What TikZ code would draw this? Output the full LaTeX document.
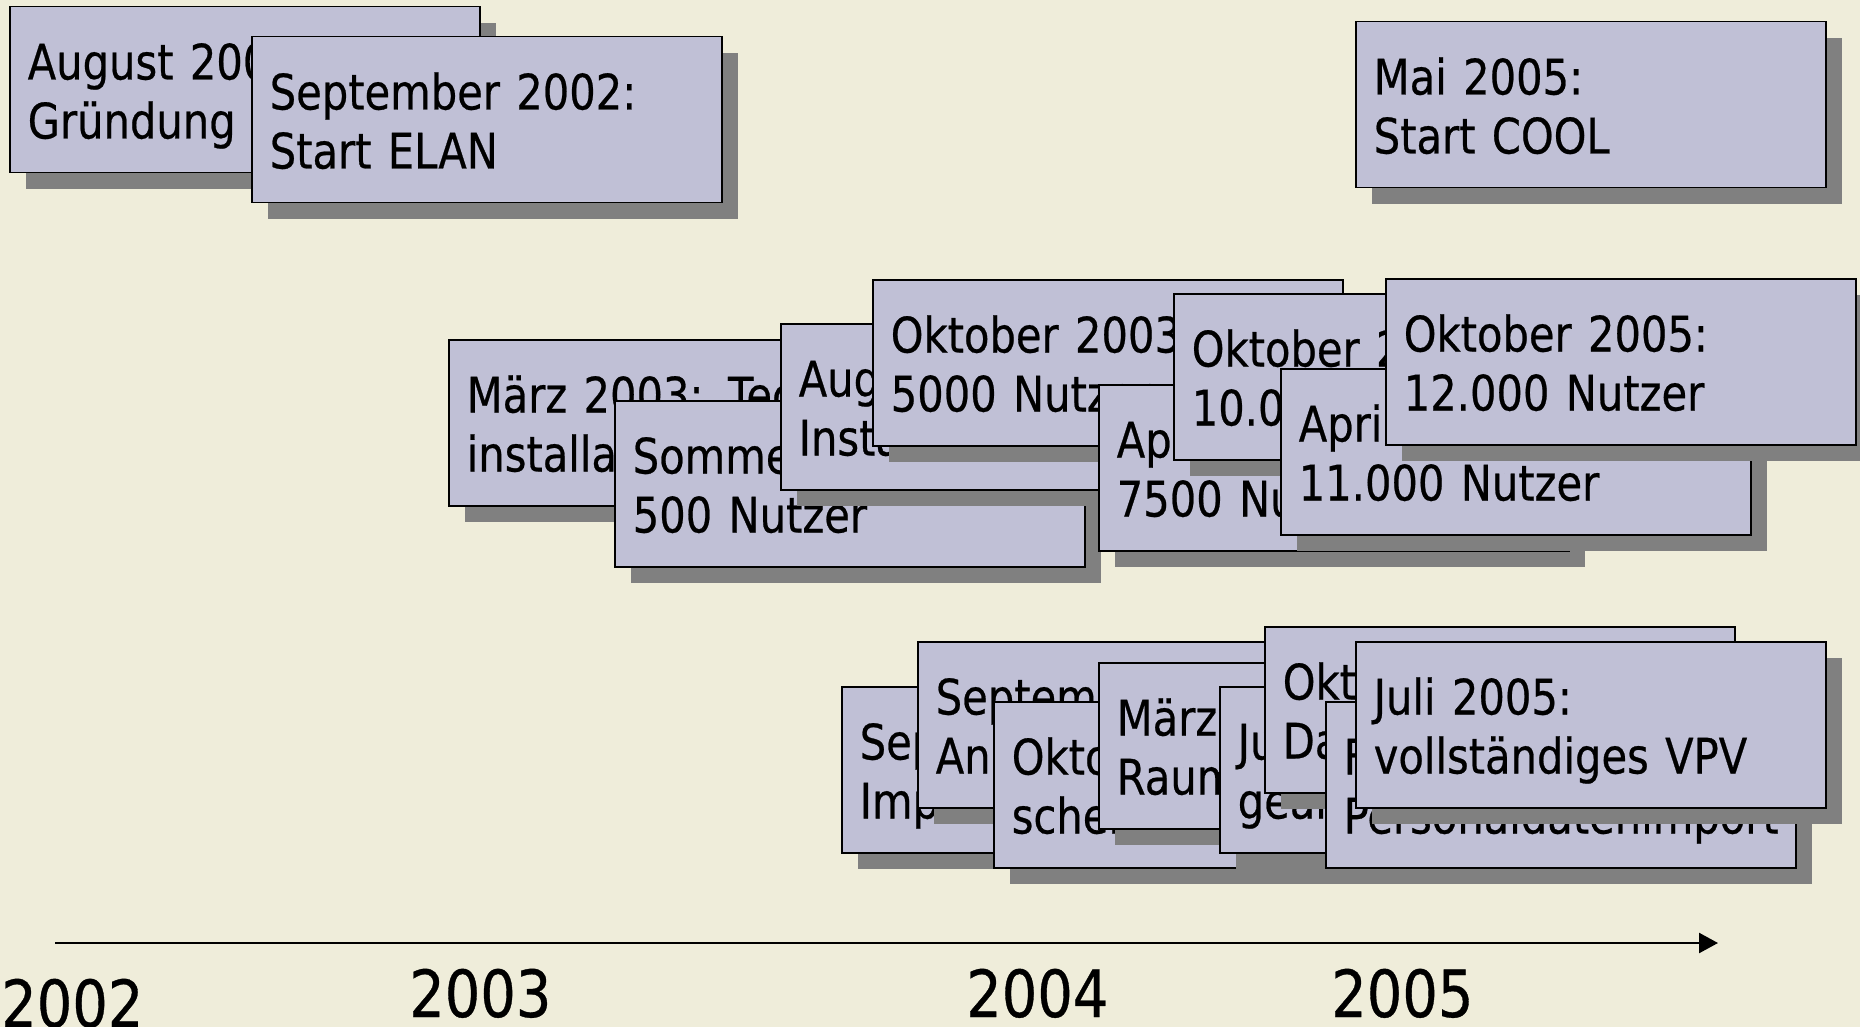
\documentclass[tikz,border=0pt]{standalone}
\usepackage{fontspec}
\setmainfont{DejaVu Sans}
\newfontfamily\boxfont[FakeStretch=0.85,FakeBold=0.5]{DejaVu Sans}
\newfontfamily\yearfont[FakeStretch=0.86,FakeBold=0.5]{DejaVu Sans}
\usetikzlibrary{shadows,arrows.meta}
\definecolor{bgc}{RGB}{239,237,218}
\definecolor{boxc}{RGB}{192,192,214}
\definecolor{shc}{RGB}{128,128,128}
\hyphenpenalty=10000
\exhyphenpenalty=10000
\begin{document}
\begin{tikzpicture}[x=1pt,y=-1pt,
  ev/.style={draw=black, line width=1.5pt, fill=boxc, anchor=north west,
    minimum width=470pt, minimum height=166pt, inner xsep=18pt, inner ysep=0pt,
    text width=434pt, align=left, text height=36pt, text depth=56.5pt,
    font=\boxfont\fontsize{49}{59}\selectfont,
    drop shadow={shadow xshift=16pt, shadow yshift=-16pt, fill=shc, opacity=1}},
  yr/.style={anchor=base west, inner sep=0pt, font=\yearfont\fontsize{65}{78}\selectfont},
  axisline/.style={line width=2.4pt, draw=black, -{Triangle[length=19pt,width=20pt]}}]
\fill[bgc] (0,0) rectangle (1860,1027);
\useasboundingbox (0,0) rectangle (1860,1027);

% top row
\node[ev] (aug02) at (9,6) {August 2002:\\Gründung};
\node[ev] (sep02) at (251,36) {September 2002:\\Start ELAN};
\node[ev] (mai05) at (1355,21) {Mai 2005:\\Start COOL};

% middle row
\node[ev] (mar03) at (448,339) {März 2003: Tech-\\installation};
\node[ev] (som03) at (614,400) {Sommer 2003:\\500 Nutzer};
\node[ev] (aug03) at (780,323) {August 2003:\\Installation};
\node[ev] (okt03) at (872,279) {Oktober 2003:\\5000 Nutzer};
\node[ev] (apr04) at (1098,384) {April 2004:\\7500 Nutzer};
\node[ev] (okt04) at (1173,293) {Oktober 2004:\\10.000 Nutzer};
\node[ev] (apr05) at (1280,368) {April 2005:\\11.000 Nutzer};
\node[ev] (okt05) at (1385,278) {Oktober 2005:\\12.000 Nutzer};

% bottom row
\node[ev] (sepA) at (841,686) {September 2003:\\Import};
\node[ev] (sepB) at (917,641) {September 2003:\\Anmeldung};
\node[ev] (oktB) at (993,701) {Oktober 2003:\\scheine};
\node[ev] (marB) at (1098,662) {März 2004:\\Raumverwaltung};
\node[ev] (julB) at (1219,686) {Juli 2004:\\geändert};
\node[ev] (oktC) at (1264,626) {Oktober 2004:\\Datenimport};
\node[ev] (febC) at (1325,701) {Februar 2005:\\Personaldatenimport};
\node[ev] (julC) at (1355,641) {Juli 2005:\\vollständiges VPV};

% time axis
\coordinate (axs) at (55,943);
\coordinate (axe) at (1718,943);
\draw[axisline] (axs) -- (axe);

\node[yr] (y2002) at (1,1027) {2002};
\node[yr] (y2003) at (409,1017) {2003};
\node[yr] (y2004) at (966,1017) {2004};
\node[yr] (y2005) at (1331,1017) {2005};
\end{tikzpicture}
\end{document}
